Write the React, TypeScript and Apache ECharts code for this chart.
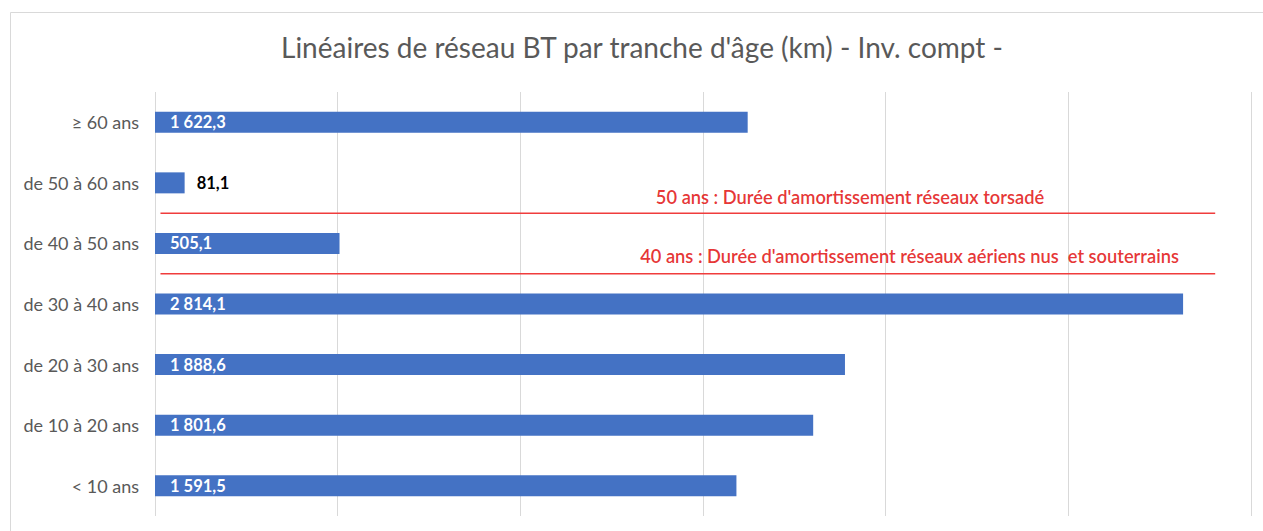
import React, { useEffect, useRef } from "react";
import * as echarts from "echarts";

const categories = ["< 10 ans", "de 10 à 20 ans", "de 20 à 30 ans", "de 30 à 40 ans", "de 40 à 50 ans", "de 50 à 60 ans", "≥ 60 ans"];
const values = [1591.5, 1801.6, 1888.6, 2814.1, 505.1, 81.1, 1622.3];
const xTicks = { min: 0, max: 3000, interval: 500 };
// threshold lines on a 0..7 band scale (boundaries between categories)
const thresholdLines = [
  { name: "50 ans", y: 5, x0: 15, x1: 2902, label: "50 ans : Durée d'amortissement réseaux torsadé", labelX: 1371, labelY: 5.27 },
  { name: "40 ans", y: 4, x0: 15, x1: 2902, label: "40 ans : Durée d'amortissement réseaux aériens nus  et souterrains", labelX: 1328, labelY: 4.29 },
];

const FONT = "Lato";

function fmt(v: number): string {
  const [i, d] = v.toFixed(1).split(".");
  const int = i.replace(/\B(?=(\d{3})+(?!\d))/g, " ");
  return int + "," + d;
}

export default function App() {
  const ref = useRef<HTMLDivElement>(null);
  useEffect(() => {
    if (!ref.current) return;
    const chart = echarts.init(ref.current, undefined, { renderer: "svg" });
    const series: any[] = [
      {
        type: "bar",
        data: values.map((v) =>
          v < 200
            ? { value: v, label: { position: "right", distance: 12, color: "#000000" } }
            : { value: v }
        ),
        barWidth: 21,
        itemStyle: { color: "#4472C4" },
        label: {
          show: true,
          position: "insideLeft",
          distance: 15,
          color: "#ffffff",
          fontWeight: "bold",
          fontSize: 16.5,
          fontFamily: FONT,
          formatter: (p: any) => fmt(p.value),
        },
        z: 2,
      },
    ];
    thresholdLines.forEach((t) => {
      series.push({
        type: "line",
        yAxisIndex: 1,
        data: [[t.x0, t.y], [t.x1, t.y]],
        symbol: "none",
        lineStyle: { color: "#f03c3c", width: 1.5 },
        silent: true,
        z: 3,
      });
      series.push({
        type: "scatter",
        yAxisIndex: 1,
        data: [[t.labelX, t.labelY]],
        symbolSize: 0,
        label: {
          show: true,
          position: "right",
          distance: 0,
          formatter: t.label,
          color: "#e00000",
          fontSize: 18.3,
          fontWeight: 600,
          fontFamily: FONT,
        },
        silent: true,
        z: 4,
      });
    });
    chart.setOption({
      animation: false,
      title: {
        text: "Linéaires de réseau BT par tranche d'âge (km) - Inv. compt -",
        left: 276,
        top: 28,
        textStyle: { fontFamily: FONT, fontSize: 28, fontWeight: "normal", color: "#595959" },
      },
      graphic: [
        {
          type: "rect",
          shape: { x: 10.5, y: 12.5, width: 1260, height: 540 },
          style: { fill: "none", stroke: "#d9d9d9", lineWidth: 1 },
          silent: true,
        },
      ],
      grid: { left: 155, right: 12, top: 92, bottom: 15, containLabel: false },
      xAxis: {
        type: "value",
        min: xTicks.min,
        max: xTicks.max,
        interval: xTicks.interval,
        axisLabel: { show: false },
        axisLine: { show: false },
        axisTick: { show: false },
        splitLine: { show: true, lineStyle: { color: "#d9d9d9", width: 1 } },
      },
      yAxis: [
        {
          type: "category",
          data: categories,
          axisLine: { show: false },
          axisTick: { show: false },
          axisLabel: { color: "#595959", fontSize: 18, fontFamily: FONT, margin: 16 },
        },
        {
          type: "value",
          min: 0,
          max: 7,
          show: false,
          splitLine: { show: false },
        },
      ],
      series,
    });
    return () => chart.dispose();
  }, []);
  return (
    <div
      ref={ref}
      style={{ position: "fixed", left: 0, top: 0, width: 1263, height: 531, background: "#ffffff" }}
    />
  );
}
